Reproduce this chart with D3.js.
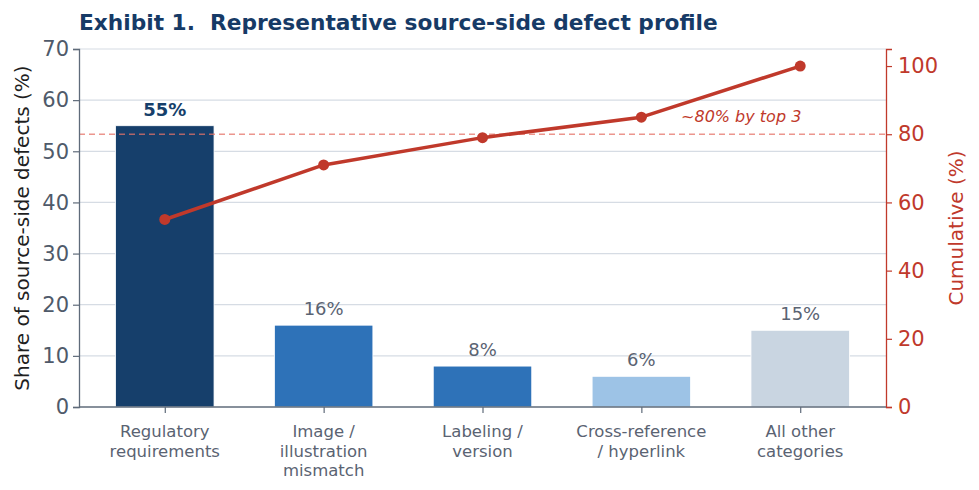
<!DOCTYPE html>
<html>
<head>
<meta charset="utf-8">
<script src="https://cdn.jsdelivr.net/npm/d3@7"></script>
<style>
  body { margin: 0; background: #fff; }
  svg { font-family: 'DejaVu Sans', sans-serif; }
</style>
</head>
<body>
<svg id="chart" width="979" height="490"></svg>
<script>
// chart data
const categories = [
  ['Regulatory', 'requirements'],
  ['Image /', 'illustration', 'mismatch'],
  ['Labeling /', 'version'],
  ['Cross-reference', '/ hyperlink'],
  ['All other', 'categories']
];
const shares = [55, 16, 8, 6, 15];
const cumulative = [55, 71, 79, 85, 100];
const barColors = ['#163f6b', '#2e72b8', '#2e72b8', '#9dc3e6', '#c9d5e1'];
const leftTicks = [0, 10, 20, 30, 40, 50, 60, 70];
const rightTicks = [0, 20, 40, 60, 80, 100];
const thresholdPct = 80;

const width = 979, height = 490;
const margin = { top: 49, right: 93, bottom: 83, left: 79 };
const innerWidth = width - margin.left - margin.right;
const innerHeight = height - margin.top - margin.bottom;

const svg = d3.select('#chart');
const g = svg.append('g').attr('transform', `translate(${margin.left},${margin.top})`);

const x = d3.scaleLinear().domain([-0.54, 4.54]).range([0, innerWidth]);
const y = d3.scaleLinear().domain([0, 70]).range([innerHeight, 0]);
const y2 = d3.scaleLinear().domain([0, 105]).range([innerHeight, 0]);
const barW = x(0.62) - x(0);

// gridlines
g.append('g')
  .selectAll('line')
  .data(leftTicks.filter(d => d > 0))
  .enter().append('line')
  .attr('x1', 0).attr('x2', innerWidth)
  .attr('y1', d => y(d)).attr('y2', d => y(d))
  .attr('stroke', '#d6dce4').attr('stroke-width', 1.2);

// bars
g.selectAll('rect.bar')
  .data(shares)
  .enter().append('rect')
  .attr('class', 'bar')
  .attr('x', (d, i) => x(i) - barW / 2)
  .attr('y', d => y(d))
  .attr('width', barW)
  .attr('height', d => innerHeight - y(d))
  .attr('fill', (d, i) => barColors[i])
  .attr('stroke', '#ffffff')
  .attr('stroke-width', 0.8);

// bar labels
g.selectAll('text.val')
  .data(shares)
  .enter().append('text')
  .attr('class', 'val')
  .attr('x', (d, i) => x(i))
  .attr('y', d => y(d) - 10)
  .attr('text-anchor', 'middle')
  .attr('font-size', '18px')
  .attr('font-weight', (d, i) => i === 0 ? 'bold' : 'normal')
  .attr('fill', (d, i) => i === 0 ? '#163f6b' : '#5a6372')
  .text(d => d + '%');

// 80% threshold
g.append('line')
  .attr('x1', 0).attr('x2', innerWidth)
  .attr('y1', y2(thresholdPct)).attr('y2', y2(thresholdPct))
  .attr('stroke', '#e57368').attr('stroke-opacity', 0.75)
  .attr('stroke-width', 1.5)
  .attr('stroke-dasharray', '6,4');

// cumulative line
const line = d3.line().x((d, i) => x(i)).y(d => y2(d));
g.append('path')
  .datum(cumulative)
  .attr('d', line)
  .attr('fill', 'none')
  .attr('stroke', '#c0392b')
  .attr('stroke-width', 3.5)
  .attr('stroke-linejoin', 'round');

g.selectAll('circle.pt')
  .data(cumulative)
  .enter().append('circle')
  .attr('class', 'pt')
  .attr('cx', (d, i) => x(i))
  .attr('cy', d => y2(d))
  .attr('r', 5.5)
  .attr('fill', '#c0392b');

g.append('text')
  .attr('x', x(3.25))
  .attr('y', y2(83.5))
  .attr('font-size', '16px')
  .attr('font-style', 'italic')
  .attr('fill', '#c0392b')
  .text('~80% by top 3');

// left axis
const yAxis = g.append('g')
  .call(d3.axisLeft(y).tickValues(leftTicks).tickSize(6).tickPadding(4));
yAxis.select('.domain').attr('stroke', '#5f6b7a').attr('stroke-width', 1.3);
yAxis.selectAll('.tick line').attr('stroke', '#5f6b7a').attr('stroke-width', 1.2);
yAxis.selectAll('text').attr('font-size', '21px').attr('fill', '#4f5a6a')
  .attr('font-family', 'DejaVu Sans');

// right axis
const yAxis2 = g.append('g')
  .attr('transform', `translate(${innerWidth},0)`)
  .call(d3.axisRight(y2).tickValues(rightTicks).tickSize(6).tickPadding(6));
yAxis2.select('.domain').attr('stroke', '#c0392b').attr('stroke-width', 1.3);
yAxis2.selectAll('.tick line').attr('stroke', '#c0392b').attr('stroke-width', 1.2);
yAxis2.selectAll('text').attr('font-size', '21px').attr('fill', '#c0392b')
  .attr('font-family', 'DejaVu Sans');

// bottom axis
const xAxis = g.append('g')
  .attr('transform', `translate(0,${innerHeight})`)
  .call(d3.axisBottom(x).tickValues(d3.range(categories.length)).tickSize(6).tickFormat(''));
xAxis.select('.domain').attr('stroke', '#5f6b7a').attr('stroke-width', 1.5)
  .attr('d', `M0,0H${innerWidth}`);
xAxis.selectAll('.tick line').attr('stroke', '#5f6b7a').attr('stroke-width', 1.2);

categories.forEach((lines, i) => {
  const t = g.append('text')
    .attr('x', x(i))
    .attr('y', innerHeight + 30)
    .attr('text-anchor', 'middle')
    .attr('font-size', '16.5px')
    .attr('fill', '#5a6372');
  lines.forEach((s, j) => {
    t.append('tspan').attr('x', x(i)).attr('dy', j === 0 ? 0 : 19.5).text(s);
  });
});

// axis titles
svg.append('text')
  .attr('transform', `translate(29,${margin.top + innerHeight / 2}) rotate(-90)`)
  .attr('text-anchor', 'middle')
  .attr('font-size', '20px')
  .attr('fill', '#1f1f1f')
  .text('Share of source-side defects (%)');

svg.append('text')
  .attr('transform', `translate(963,${margin.top + innerHeight / 2}) rotate(-90)`)
  .attr('text-anchor', 'middle')
  .attr('font-size', '20px')
  .attr('fill', '#c0392b')
  .text('Cumulative (%)');

// title
svg.append('text')
  .attr('x', 79)
  .attr('y', 30)
  .attr('font-size', '21.7px')
  .attr('font-weight', 'bold')
  .attr('fill', '#163a66')
  .attr('xml:space', 'preserve')
  .style('white-space', 'pre')
  .text('Exhibit 1.  Representative source-side defect profile');
</script>
</body>
</html>
